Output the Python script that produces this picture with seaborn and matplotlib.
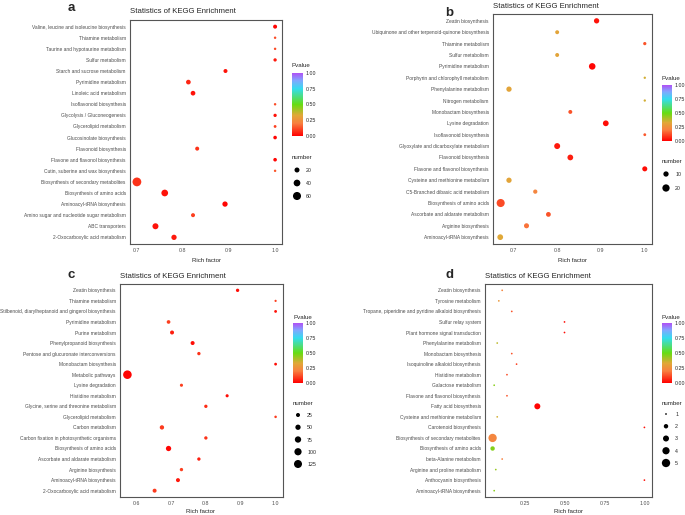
import numpy as np
import pandas as pd
import matplotlib
matplotlib.use('Agg')
import matplotlib.pyplot as plt
import seaborn as sns
from matplotlib.colors import LinearSegmentedColormap, Normalize
from matplotlib.cm import ScalarMappable

# ---- panel a ----
a_terms = ['Valine, leucine and isoleucine biosynthesis', 'Thiamine metabolism',
           'Taurine and hypotaurine metabolism', 'Sulfur metabolism',
           'Starch and sucrose metabolism', 'Pyrimidine metabolism', 'Linoleic acid metabolism',
           'Isoflavonoid biosynthesis', 'Glycolysis / Gluconeogenesis', 'Glycerolipid metabolism',
           'Glucosinolate biosynthesis', 'Flavonoid biosynthesis', 'Flavone and flavonol biosynthesis',
           'Cutin, suberine and wax biosynthesis', 'Biosynthesis of secondary metabolites',
           'Biosynthesis of amino acids', 'Aminoacyl-tRNA biosynthesis',
           'Amino sugar and nucleotide sugar metabolism', 'ABC transporters',
           '2-Oxocarboxylic acid metabolism']
a_rich = [1.0, 1.0, 1.0, 1.0, 0.893, 0.813, 0.823, 1.0, 1.0, 1.0,
          1.0, 0.832, 1.0, 1.0, 0.702, 0.762, 0.892, 0.823, 0.742, 0.782]
a_count = [11, 1, 1, 6, 11, 17, 17, 1, 6, 3, 8, 11, 8, 1, 72, 40, 23, 11, 31, 23]
a_pval = [0.01, 0.12, 0.12, 0.04, 0.03, 0.06, 0.03, 0.12, 0.03, 0.10,
          0.01, 0.08, 0.01, 0.14, 0.08, 0.03, 0.01, 0.10, 0.03, 0.04]

# ---- panel b ----
b_terms = ['Zeatin biosynthesis', 'Ubiquinone and other terpenoid-quinone biosynthesis',
           'Thiamine metabolism', 'Sulfur metabolism', 'Pyrimidine metabolism',
           'Porphyrin and chlorophyll metabolism', 'Phenylalanine metabolism',
           'Nitrogen metabolism', 'Monobactam biosynthesis', 'Lysine degradation',
           'Isoflavonoid biosynthesis', 'Glyoxylate and dicarboxylate metabolism',
           'Flavonoid biosynthesis', 'Flavone and flavonol biosynthesis',
           'Cysteine and methionine metabolism', 'C5-Branched dibasic acid metabolism',
           'Biosynthesis of amino acids', 'Ascorbate and aldarate metabolism',
           'Arginine biosynthesis', 'Aminoacyl-tRNA biosynthesis']
b_rich = [0.89, 0.80, 1.0, 0.80, 0.88, 1.0, 0.69, 1.0, 0.83, 0.911,
          1.0, 0.80, 0.83, 1.0, 0.69, 0.75, 0.671, 0.78, 0.73, 0.67]
b_count = [10, 5, 3, 5, 16, 1, 10, 1, 5, 12, 2, 13, 12, 9, 10, 6, 25, 8, 9, 12]
b_pval = [0.03, 0.32, 0.13, 0.32, 0.01, 0.35, 0.32, 0.35, 0.13, 0.02,
          0.14, 0.04, 0.05, 0.02, 0.32, 0.22, 0.12, 0.13, 0.18, 0.33]

# ---- panel c ----
c_terms = ['Zeatin biosynthesis', 'Thiamine metabolism',
           'Stilbenoid, diarylheptanoid and gingerol biosynthesis', 'Pyrimidine metabolism',
           'Purine metabolism', 'Phenylpropanoid biosynthesis',
           'Pentose and glucuronate interconversions', 'Monobactam biosynthesis',
           'Metabolic pathways', 'Lysine degradation', 'Histidine metabolism',
           'Glycine, serine and threonine metabolism', 'Glycerolipid metabolism',
           'Carbon metabolism', 'Carbon fixation in photosynthetic organisms',
           'Biosynthesis of amino acids', 'Ascorbate and aldarate metabolism',
           'Arginine biosynthesis', 'Aminoacyl-tRNA biosynthesis',
           '2-Oxocarboxylic acid metabolism']
c_rich = [0.891, 1.0, 1.0, 0.693, 0.703, 0.762, 0.78, 1.0, 0.575, 0.73,
          0.861, 0.80, 1.0, 0.674, 0.80, 0.693, 0.78, 0.73, 0.72, 0.653]
c_count = [15, 2, 8, 20, 25, 25, 15, 8, 145, 12, 12, 15, 5, 31, 15, 50, 15, 15, 25, 25]
c_pval = [0.02, 0.10, 0.03, 0.10, 0.05, 0.02, 0.08, 0.02, 0.01, 0.10,
          0.02, 0.07, 0.09, 0.09, 0.08, 0.01, 0.05, 0.10, 0.04, 0.09]

# ---- panel d ----
d_terms = ['Zeatin biosynthesis', 'Tyrosine metabolism',
           'Tropane, piperidine and pyridine alkaloid biosynthesis', 'Sulfur relay system',
           'Plant hormone signal transduction', 'Phenylalanine metabolism',
           'Monobactam biosynthesis', 'Isoquinoline alkaloid biosynthesis',
           'Histidine metabolism', 'Galactose metabolism', 'Flavone and flavonol biosynthesis',
           'Fatty acid biosynthesis', 'Cysteine and methionine metabolism',
           'Carotenoid biosynthesis', 'Biosynthesis of secondary metabolites',
           'Biosynthesis of amino acids', 'beta-Alanine metabolism',
           'Arginine and proline metabolism', 'Anthocyanin biosynthesis',
           'Aminoacyl-tRNA biosynthesis']
d_rich = [0.11, 0.089, 0.17, 0.50, 0.50, 0.079, 0.17, 0.20, 0.14, 0.06,
          0.14, 0.33, 0.079, 1.0, 0.05, 0.05, 0.11, 0.07, 1.0, 0.06]
d_count = [1, 1, 1, 1, 1, 1, 1, 1, 1, 1, 1, 3, 1, 1, 5, 2, 1, 1, 1, 1]
d_pval = [0.22, 0.28, 0.13, 0.02, 0.02, 0.38, 0.13, 0.10, 0.12, 0.45,
          0.13, 0.01, 0.35, 0.03, 0.22, 0.46, 0.20, 0.43, 0.03, 0.45]

W, H = 685, 515

sns.set_style('white')
plt.rcParams['font.family'] = ['Liberation Sans', 'DejaVu Sans']

cmap = LinearSegmentedColormap.from_list('kegg', [
    (0.0, '#FF0000'), (0.2, '#F88040'), (0.33, '#E0A838'), (0.5, '#66DD11'),
    (0.75, '#33DDEE'), (0.88, '#7FA8FF'), (1.0, '#B050F5')])
norm = Normalize(0, 1)


def box(l, t, r, b):
    return [l / W, 1 - b / H, (r - l) / W, (b - t) / H]


def area(n, slope, icpt):
    # marker area in pt^2 from a fitted squared pixel diameter
    return 0.518 * (slope * n + icpt)


panels = [
    dict(letter='a', terms=a_terms, rich=a_rich, count=a_count, pval=a_pval,
         ax=(130, 20, 282, 244), title_y=13, letter_xy=(71, 11), xlab=(206, 262),
         ticks=[0.7, 0.8, 0.9, 1.0], fmt='{:.1f}', fit=(1.0, 5), snorm=(0, 100),
         cbar=(292, 73, 303, 136), pv_y=67, num_y=159, leg=[20, 40, 60],
         leg_y=(170, 196), dot_x=297),
    dict(letter='b', terms=b_terms, rich=b_rich, count=b_count, pval=b_pval,
         ax=(493, 14, 652, 244), title_y=8, letter_xy=(449, 16), xlab=(572, 262),
         ticks=[0.7, 0.8, 0.9, 1.0], fmt='{:.1f}', fit=(2.5, 3), snorm=(0, 30),
         cbar=(662, 85, 672, 141), pv_y=80, num_y=163, leg=[10, 20],
         leg_y=(174, 188), dot_x=666),
    dict(letter='c', terms=c_terms, rich=c_rich, count=c_count, pval=c_pval,
         ax=(120, 284, 283, 497), title_y=278, letter_xy=(71, 278), xlab=(201, 513),
         ticks=[0.6, 0.7, 0.8, 0.9, 1.0], fmt='{:.1f}', fit=(0.48, 4), snorm=(0, 150),
         cbar=(293, 323, 303, 383), pv_y=319, num_y=405, leg=[25, 50, 75, 100, 125],
         leg_y=(415, 464), dot_x=298),
    dict(letter='d', terms=d_terms, rich=d_rich, count=d_count, pval=d_pval,
         ax=(485, 284, 652, 497), title_y=278, letter_xy=(450, 278), xlab=(568, 513),
         ticks=[0.25, 0.5, 0.75, 1.0], fmt='{:.2f}', fit=(16.5, -13.5), snorm=(1, 5),
         cbar=(662, 323, 672, 383), pv_y=319, num_y=405, leg=[1, 2, 3, 4, 5],
         leg_y=(414, 463), dot_x=666),
]

fig = plt.figure(figsize=(W / 100, H / 100), dpi=100)

for p in panels:
    df = pd.DataFrame({'term': p['terms'], 'rich': p['rich'],
                       'number': p['count'], 'pval': p['pval']})
    lo, hi = p['snorm']
    sizes = (area(lo, *p['fit']), area(hi, *p['fit']))

    ax = fig.add_axes(box(*p['ax']))
    sns.scatterplot(data=df, x='rich', y='term', hue='pval', size='number',
                    palette=cmap, hue_norm=(0, 1), size_norm=(lo, hi), sizes=sizes,
                    linewidth=0, legend=False, ax=ax)
    n = len(p['terms'])
    ax.set_ylim(n - 0.4, -0.6)
    span = max(p['rich']) - min(p['rich'])
    ax.set_xlim(min(p['rich']) - 0.05 * span, max(p['rich']) + 0.05 * span)
    ax.set_xticks(p['ticks'])
    ax.set_xticklabels([p['fmt'].format(t) for t in p['ticks']])
    ax.set_xlabel('')
    ax.set_ylabel('')
    ax.tick_params(labelsize=3.5, colors='#4D4D4D', length=2, width=0.5, pad=1)
    ax.tick_params(axis='x', labelsize=3.8)
    for sp in ax.spines.values():
        sp.set_color('#555555')
        sp.set_linewidth(0.8)

    l, t, r, b = p['ax']
    fig.text(l / W, 1 - p['title_y'] / H, 'Statistics of KEGG Enrichment',
             fontsize=5.6, va='baseline', ha='left')
    lx, ly = p['letter_xy']
    fig.text(lx / W, 1 - ly / H, p['letter'], fontsize=9.5, fontweight='heavy',
             va='baseline', ha='center')
    xx, xy = p['xlab']
    fig.text(xx / W, 1 - xy / H, 'Rich factor', fontsize=4.4, va='baseline', ha='center')

    # colour bar
    cl, ct, cr, cb_ = p['cbar']
    cax = fig.add_axes(box(cl, ct, cr, cb_))
    cb = fig.colorbar(ScalarMappable(norm=norm, cmap=cmap), cax=cax)
    cb.set_ticks([0, 0.25, 0.5, 0.75, 1.0])
    cb.ax.set_yticklabels(['0.00', '0.25', '0.50', '0.75', '1.00'])
    cb.outline.set_visible(False)
    cax.tick_params(length=0, labelsize=3.8, pad=2)
    fig.text(cl / W, 1 - p['pv_y'] / H, 'Pvalue', fontsize=4.4, va='baseline', ha='left')

    # size legend
    fig.text(cl / W, 1 - p['num_y'] / H, 'number', fontsize=4.4, va='baseline', ha='left')
    k = len(p['leg'])
    y0, y1 = p['leg_y']
    step = (y1 - y0) / max(k - 1, 1)
    lax = fig.add_axes(box(p['dot_x'] - 5, y0 - step / 2, p['dot_x'] + 5, y1 + step / 2))
    sns.scatterplot(x=np.zeros(k), y=np.arange(k), size=p['leg'], size_norm=(lo, hi),
                    sizes=sizes, color='black', linewidth=0, legend=False, ax=lax)
    lax.set_xlim(-1, 1)
    lax.set_ylim(k - 0.5, -0.5)
    lax.set_xticks([])
    lax.set_yticks(np.arange(k))
    lax.set_yticklabels([str(v) for v in p['leg']])
    lax.yaxis.tick_right()
    lax.tick_params(length=0, labelsize=3.8, pad=3)
    lax.patch.set_visible(False)
    for sp in lax.spines.values():
        sp.set_visible(False)

fig.savefig('out.png', dpi=100)
